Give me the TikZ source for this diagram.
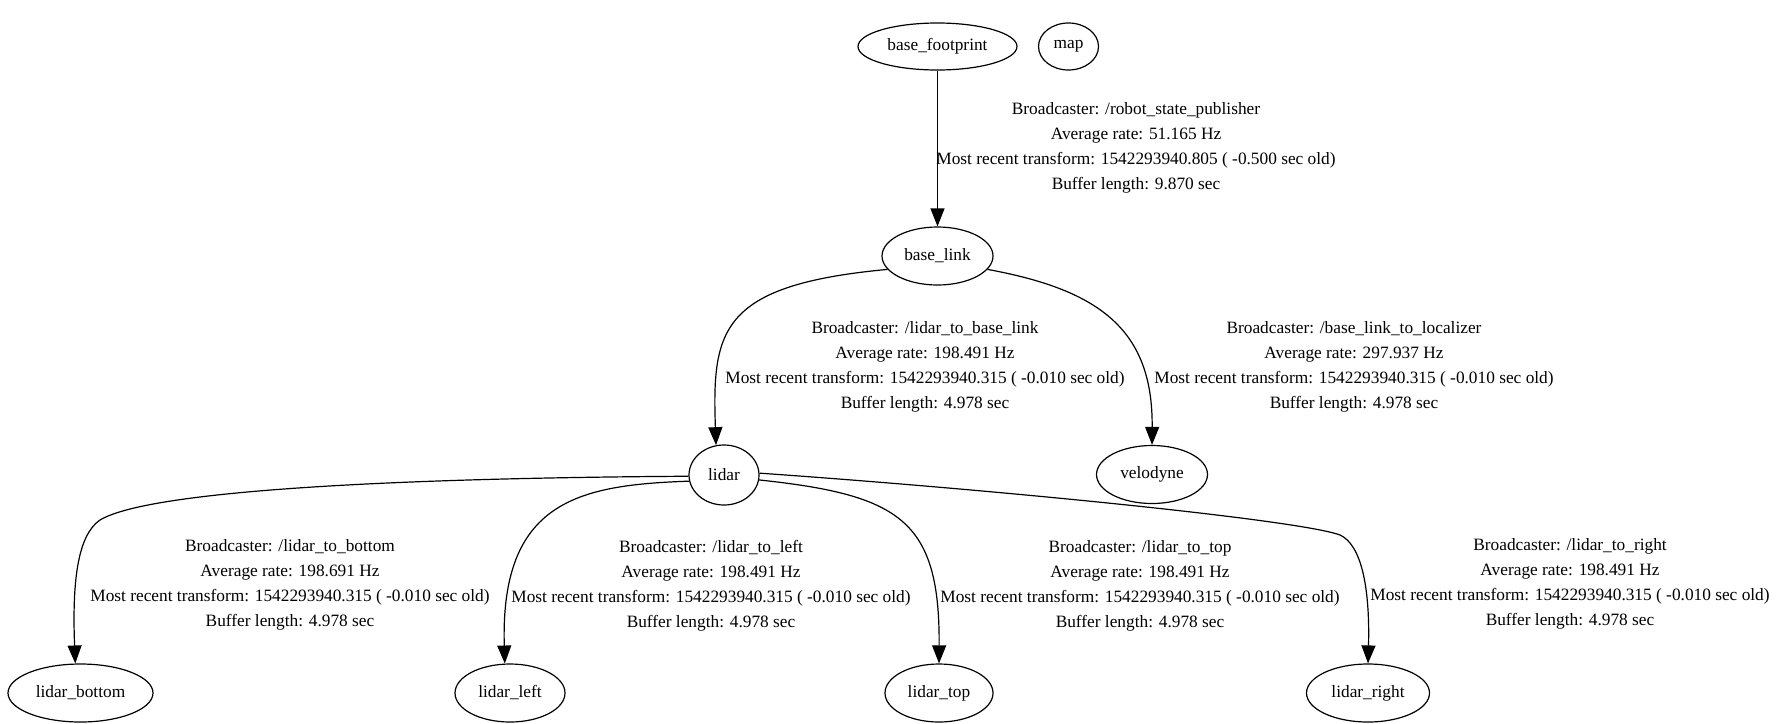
\documentclass[tikz,border=0pt]{standalone}
\usepackage{fontspec}
\setmainfont{Liberation Serif}
\usepackage{tikz}
\usetikzlibrary{shapes.geometric,arrows.meta,positioning}

\begin{document}
\begin{tikzpicture}[x=0.5pt, y=-0.5pt,
        frame/.style={draw, ellipse, inner sep=0pt, minimum height=29pt,
              line width=0.6pt, font=\fontsize{8.66}{12.5}\selectfont},
        info/.style={align=center, inner sep=0pt,
              font=\fontsize{8.66}{12.5}\selectfont},
        tf/.style={line width=0.6pt, -{Triangle[length=9pt, width=7pt]}}]
        \useasboundingbox (0,0) rectangle (1786,723);

        \node[frame, minimum width=79.5pt, minimum height=23.5pt] (base_footprint) at (937.5,46.5) {base\_footprint};
        \node[frame, minimum width=30pt, minimum height=23.5pt] (map) at (1068.5,46.5) {map};
        \node[frame, minimum width=55.5pt] (base_link) at (937.5,256) {base\_link};
        \node[frame, minimum width=35pt, minimum height=30pt] (lidar) at (724,475) {lidar};
        \node[frame, minimum width=55.5pt] (velodyne) at (1152,474.5) {velodyne};
        \node[frame, minimum width=72.5pt] (lidar_bottom) at (80.5,693) {lidar\_bottom};
        \node[frame, minimum width=55pt] (lidar_left) at (510,693) {lidar\_left};
        \node[frame, minimum width=54pt] (lidar_top) at (939,693) {lidar\_top};
        \node[frame, minimum width=61.5pt] (lidar_right) at (1368,693) {lidar\_right};

        \node[info] (info_fp) at (1136,148) {Broadcaster: /robot\_state\_publisher\\
            Average rate: 51.165 Hz\\
            Most recent transform: 1542293940.805 ( -0.500 sec old)\\
            Buffer length: 9.870 sec};
        \node[info] (info_lidar) at (925,367) {Broadcaster: /lidar\_to\_base\_link\\
            Average rate: 198.491 Hz\\
            Most recent transform: 1542293940.315 ( -0.010 sec old)\\
            Buffer length: 4.978 sec};
        \node[info] (info_velo) at (1354,367) {Broadcaster: /base\_link\_to\_localizer\\
            Average rate: 297.937 Hz\\
            Most recent transform: 1542293940.315 ( -0.010 sec old)\\
            Buffer length: 4.978 sec};
        \node[info] (info_bottom) at (290,585) {Broadcaster: /lidar\_to\_bottom\\
            Average rate: 198.691 Hz\\
            Most recent transform: 1542293940.315 ( -0.010 sec old)\\
            Buffer length: 4.978 sec};
        \node[info] (info_left) at (711,586) {Broadcaster: /lidar\_to\_left\\
            Average rate: 198.491 Hz\\
            Most recent transform: 1542293940.315 ( -0.010 sec old)\\
            Buffer length: 4.978 sec};
        \node[info] (info_top) at (1140,586) {Broadcaster: /lidar\_to\_top\\
            Average rate: 198.491 Hz\\
            Most recent transform: 1542293940.315 ( -0.010 sec old)\\
            Buffer length: 4.978 sec};
        \node[info] (info_right) at (1570,584) {Broadcaster: /lidar\_to\_right\\
            Average rate: 198.491 Hz\\
            Most recent transform: 1542293940.315 ( -0.010 sec old)\\
            Buffer length: 4.978 sec};

        % transforms
        \draw[tf] (base_footprint) -- (base_link);
        \draw[tf] (base_link.195) .. controls (720,285) and (712,330) .. (lidar.105);
        \draw[tf] (base_link.-15) .. controls (1100,290) and (1153,330) .. (velodyne.north);
        \draw[tf] (lidar.182) .. controls (400,478) and (150,490) .. (100,520)
            .. controls (78,535) and (72,580) .. (lidar_bottom.100);
        \draw[tf] (lidar.190) .. controls (580,485) and (500,500) .. (lidar_left.100);
        \draw[tf] (lidar.-8) .. controls (900,495) and (940,520) .. (lidar_top.north);
        \draw[tf] (lidar.3) .. controls (1000,490) and (1300,520) .. (1340,535)
            .. controls (1362,545) and (1370,590) .. (lidar_right.north);
    \end{tikzpicture}
\end{document}
